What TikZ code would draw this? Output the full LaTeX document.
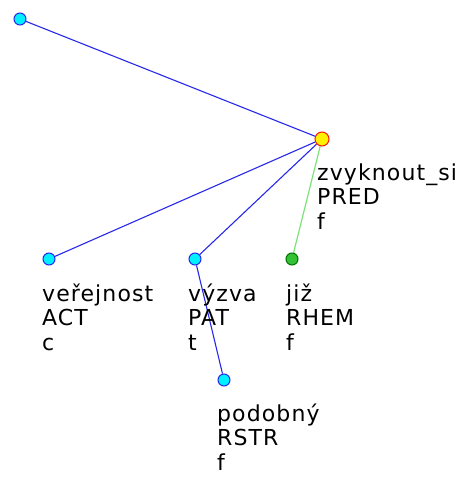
\documentclass[tikz,border=0pt]{standalone}
\usepackage{fontspec}
\setmainfont[LetterSpace=5]{DejaVu Sans}
\usetikzlibrary{backgrounds}
\definecolor{edgeblue}{RGB}{40,40,235}
\definecolor{edgegreen}{RGB}{120,225,120}
\definecolor{nodecyan}{RGB}{0,240,255}
\begin{document}
\begin{tikzpicture}[x=1pt,y=-1pt,
every node/.style={inner sep=0pt},
tnode/.style={circle,draw=edgeblue,fill=nodecyan,minimum size=12pt,line width=1pt},
rootnode/.style={circle,draw=red!80!orange,fill=yellow,minimum size=14pt,line width=1pt},
rhemnode/.style={circle,draw=green!45!black,fill=green!70!black!80,minimum size=12pt,line width=1pt},
lab/.style={anchor=base west,align=left,font=\fontsize{22}{24.5}\selectfont},
bedge/.style={edgeblue,line width=1.1pt},
gedge/.style={edgegreen,line width=1.1pt}]
\useasboundingbox (0,0) rectangle (466,477);

\node[tnode] (top) at (20,19) {};
\node[rootnode] (zvyk) at (322,139) {};
\node[tnode] (verej) at (49,259) {};
\node[tnode] (vyzva) at (195,259) {};
\node[rhemnode] (jiz) at (292,259) {};
\node[tnode] (podob) at (224,380) {};

% last line baselines
\node[lab] (zvyk-l) at (317,229) {zvyknout\_si\\PRED\\f};
\node[lab] (verej-l) at (42,350) {veřejnost\\ACT\\c};
\node[lab] (vyzva-l) at (188,350) {výzva\\PAT\\t};
\node[lab] (jiz-l) at (286,350) {již\\RHEM\\f};
\node[lab] (podob-l) at (217,470) {podobný\\RSTR\\f};

\begin{scope}[on background layer]
\draw[bedge] (zvyk) -- (top);
\draw[bedge] (zvyk) -- (verej);
\draw[bedge] (zvyk) -- (vyzva);
\draw[gedge] (zvyk) -- (jiz);
\draw[bedge] (vyzva) -- (podob);
\end{scope}
\end{tikzpicture}
\end{document}
